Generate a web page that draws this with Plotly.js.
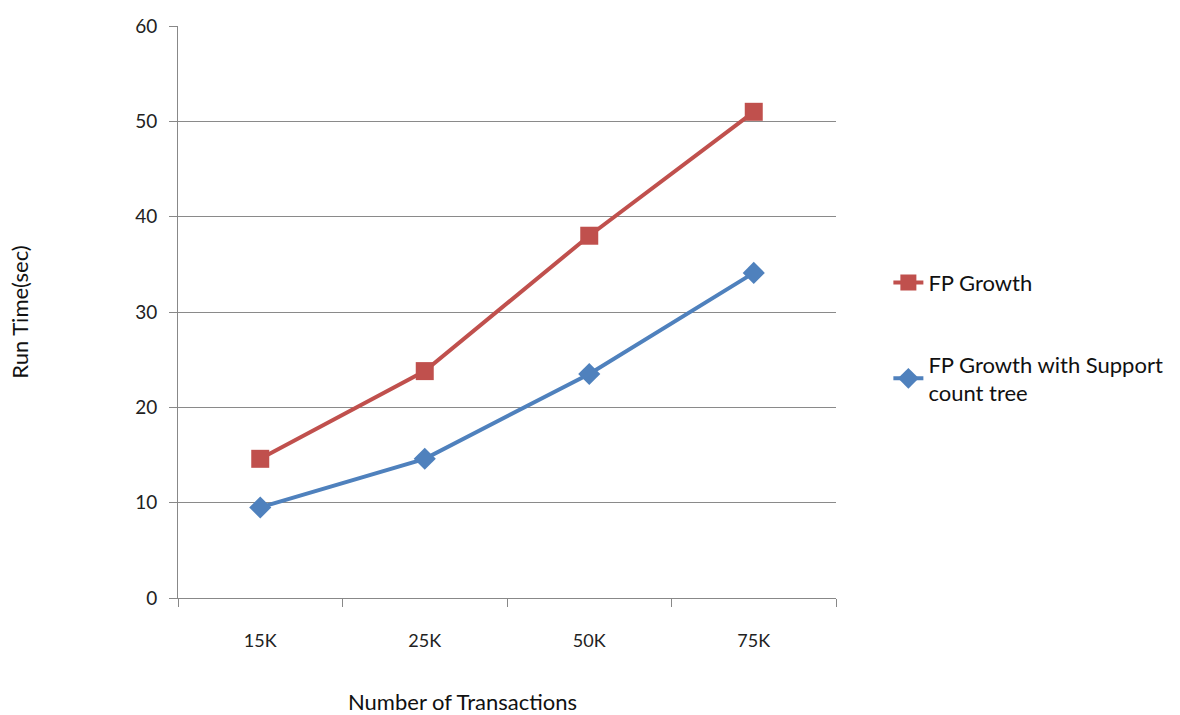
<!DOCTYPE html>
<html>
<head>
<meta charset="utf-8">
<script src="https://cdn.plot.ly/plotly-3.0.1.min.js"></script>
<style>html,body{margin:0;padding:0;background:#fff;}#chart{width:1180px;height:715px;}</style>
</head>
<body>
<div id="chart"></div>
<script>
var categories = ["15K", "25K", "50K", "75K"];
var fpGrowth = [14.6, 23.8, 38.0, 51.0];
var fpSupport = [9.5, 14.6, 23.5, 34.1];
var yTicks = [0, 10, 20, 30, 40, 50, 60];
var seriesNames = ["FP Growth", "FP Growth with Support<br>count tree"];

var font = "Lato, 'Open Sans', sans-serif";

var traces = [
  {
    x: categories, y: fpGrowth, name: seriesNames[0], type: "scatter", mode: "lines+markers",
    line: {color: "#C0504D", width: 4},
    marker: {symbol: "square", size: 18, color: "#C0504D"},
    legendgroup: "a"
  },
  {
    x: categories, y: fpSupport, name: seriesNames[1], type: "scatter", mode: "lines+markers",
    line: {color: "#4F81BD", width: 4},
    marker: {symbol: "diamond", size: 17, color: "#4F81BD"},
    legendgroup: "b"
  }
];

var layout = {
  width: 1180, height: 715,
  margin: {l: 178, r: 344, t: 26, b: 117},
  paper_bgcolor: "#fff", plot_bgcolor: "#fff",
  font: {family: font, size: 16, color: "#222"},
  showlegend: true,
  legend: {
    x: 1.0796, y: 0.588, xanchor: "left", yanchor: "top",
    font: {family: font, size: 22, color: "#111"},
    traceorder: "grouped", tracegroupgap: 50,
    itemwidth: 30
  },
  xaxis: {
    type: "category",
    tickson: "boundaries",
    ticks: "outside", ticklen: 8, tickcolor: "#888",
    showline: true, linecolor: "#888", linewidth: 1,
    showgrid: false,
    ticklabelstandoff: 26,
    tickfont: {family: font, size: 18, color: "#222"},
    range: [-0.5, 3.5]
  },
  yaxis: {
    range: [0, 60],
    tickvals: yTicks,
    ticks: "outside", ticklen: 8, tickcolor: "#888",
    showline: true, linecolor: "#888", linewidth: 1,
    showgrid: true, gridcolor: "#8a8a8a", gridwidth: 1,
    zeroline: false,
    ticklabelstandoff: 8,
    tickfont: {family: font, size: 19, color: "#222"},
    title: {text: "Run Time(sec)", font: {family: font, size: 22, color: "#111"}, standoff: 100}
  },
  annotations: [
    {text: "Number of Transactions", xref: "paper", yref: "paper",
     x: (462 - 178) / 658, y: -(701 - 598) / 572, xanchor: "center", yanchor: "middle",
     showarrow: false, font: {family: font, size: 22, color: "#111"}}
  ]
};

Plotly.newPlot("chart", traces, layout, {displayModeBar: false, staticPlot: true});
</script>
</body>
</html>
